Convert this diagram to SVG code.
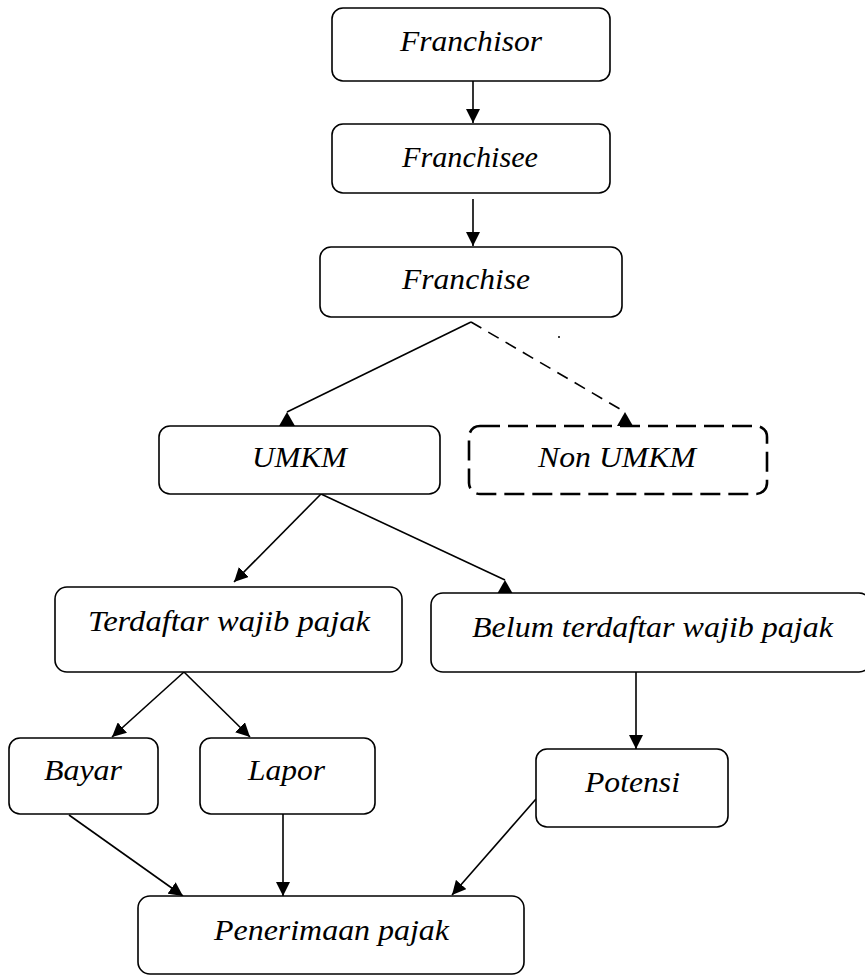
<svg xmlns="http://www.w3.org/2000/svg" width="865" height="977" viewBox="0 0 865 977">
<defs>
<style>
.box{fill:#fff;stroke:#000;stroke-width:1.6}
.dbox{fill:#fff;stroke:#000;stroke-width:2.6;stroke-dasharray:20 8}
.lbl{font-family:"Liberation Serif","Times New Roman",serif;font-style:italic;font-size:29px;fill:#000}
.ln{fill:none;stroke:#000;stroke-width:1.6}
.dln{fill:none;stroke:#000;stroke-width:1.6;stroke-dasharray:12 8}
</style>
<marker id="ah" viewBox="0 0 14 14" refX="14" refY="7" markerWidth="14" markerHeight="14" markerUnits="userSpaceOnUse" orient="auto">
<path d="M0,0 L14,7 L0,14 z" fill="#000"/>
</marker>
<marker id="up" viewBox="0 0 16 14" refX="8" refY="0" markerWidth="16" markerHeight="14" markerUnits="userSpaceOnUse" orient="0">
<path d="M8,0 L16,14 L0,14 z" fill="#000"/>
</marker>
</defs>
<g id="connectors">
<line class="ln" x1="473" y1="81" x2="473" y2="123" marker-end="url(#ah)"/>
<line class="ln" x1="473" y1="199" x2="473" y2="246" marker-end="url(#ah)"/>
<line class="ln" x1="471" y1="322" x2="287" y2="412" marker-end="url(#up)"/>
<line class="dln" x1="471" y1="322" x2="625" y2="412" marker-end="url(#up)"/>
<line class="ln" x1="321" y1="494" x2="234" y2="582" marker-end="url(#ah)"/>
<line class="ln" x1="321" y1="494" x2="505" y2="580" marker-end="url(#up)"/>
<line class="ln" x1="184" y1="672" x2="112" y2="737" marker-end="url(#ah)"/>
<line class="ln" x1="184" y1="672" x2="250" y2="737" marker-end="url(#ah)"/>
<line class="ln" x1="636" y1="672" x2="636" y2="749" marker-end="url(#ah)"/>
<line class="ln" x1="69" y1="815" x2="183" y2="896" marker-end="url(#ah)"/>
<line class="ln" x1="283" y1="814" x2="283" y2="896" marker-end="url(#ah)"/>
<line class="ln" x1="536" y1="799" x2="452" y2="895" marker-end="url(#ah)"/>
<circle cx="559" cy="337" r="1" fill="#000"/>
</g>
<g id="franchisor">
<rect class="box" x="332" y="8" width="278" height="73" rx="11"/>
<text class="lbl" x="400" y="51" textLength="142" lengthAdjust="spacingAndGlyphs">Franchisor</text>
</g>
<g id="franchisee">
<rect class="box" x="332" y="124" width="278" height="69" rx="11"/>
<text class="lbl" x="402" y="167" textLength="136" lengthAdjust="spacingAndGlyphs">Franchisee</text>
</g>
<g id="franchise">
<rect class="box" x="320" y="247" width="302" height="70" rx="11"/>
<text class="lbl" x="402" y="289" textLength="128" lengthAdjust="spacingAndGlyphs">Franchise</text>
</g>
<g id="umkm">
<rect class="box" x="159" y="426" width="281" height="68" rx="11"/>
<text class="lbl" x="252" y="467" textLength="95" lengthAdjust="spacingAndGlyphs">UMKM</text>
</g>
<g id="non-umkm">
<rect class="dbox" x="469" y="426" width="298" height="68" rx="11"/>
<text class="lbl" x="538" y="467" textLength="158" lengthAdjust="spacingAndGlyphs">Non UMKM</text>
</g>
<g id="terdaftar">
<rect class="box" x="55" y="587" width="347" height="85" rx="12"/>
<text class="lbl" x="88" y="631" textLength="282" lengthAdjust="spacingAndGlyphs">Terdaftar wajib pajak</text>
</g>
<g id="belum-terdaftar">
<rect class="box" x="431" y="593" width="440" height="79" rx="12"/>
<text class="lbl" x="472" y="637" textLength="361" lengthAdjust="spacingAndGlyphs">Belum terdaftar wajib pajak</text>
</g>
<g id="bayar">
<rect class="box" x="9" y="738" width="149" height="76" rx="11"/>
<text class="lbl" x="44" y="780" textLength="78" lengthAdjust="spacingAndGlyphs">Bayar</text>
</g>
<g id="lapor">
<rect class="box" x="200" y="738" width="175" height="76" rx="11"/>
<text class="lbl" x="248" y="780" textLength="77" lengthAdjust="spacingAndGlyphs">Lapor</text>
</g>
<g id="potensi">
<rect class="box" x="536" y="749" width="192" height="78" rx="11"/>
<text class="lbl" x="585" y="792" textLength="95" lengthAdjust="spacingAndGlyphs">Potensi</text>
</g>
<g id="penerimaan-pajak">
<rect class="box" x="138" y="896" width="386" height="78" rx="12"/>
<text class="lbl" x="214" y="940" textLength="235" lengthAdjust="spacingAndGlyphs">Penerimaan pajak</text>
</g>
</svg>
